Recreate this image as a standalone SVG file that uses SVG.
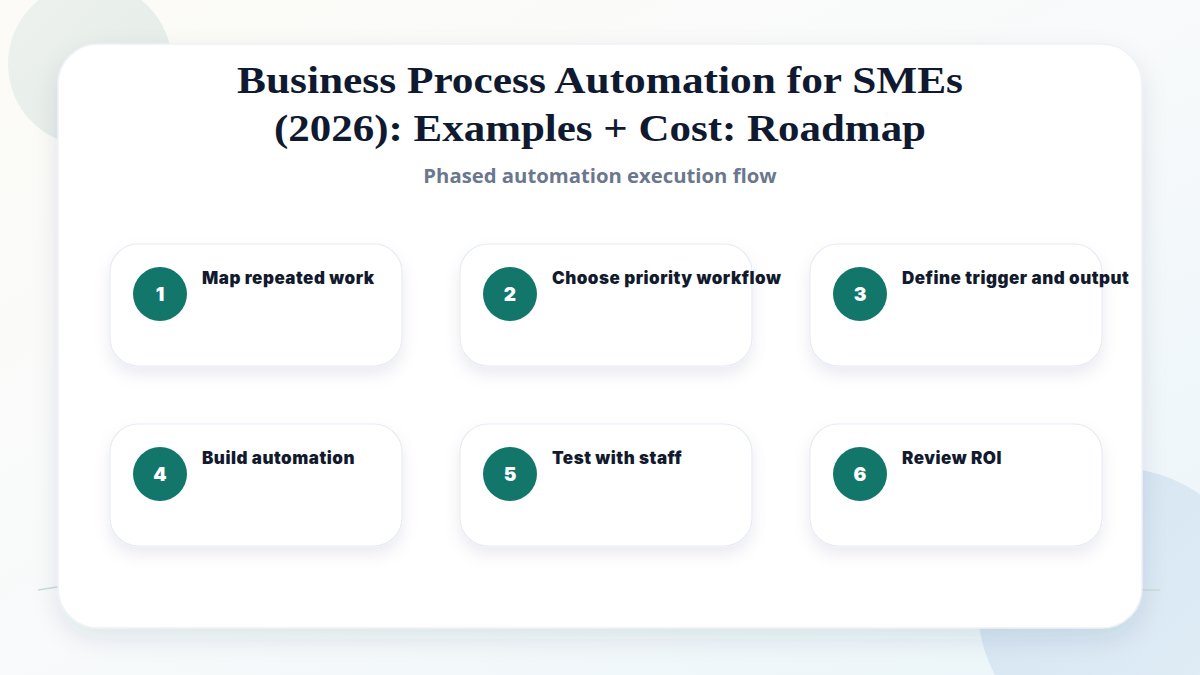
<svg xmlns="http://www.w3.org/2000/svg" width="1200" height="675" viewBox="0 0 1200 675">
<defs>
<linearGradient id="bg" x1="0" y1="0" x2="1" y2="1">
<stop offset="0" stop-color="#fcfbf7"/>
<stop offset="0.5" stop-color="#f8fafb"/>
<stop offset="1" stop-color="#eaf5f9"/>
</linearGradient>
<linearGradient id="c1" x1="0" y1="0" x2="1" y2="1">
<stop offset="0" stop-color="#eef2ee"/>
<stop offset="1" stop-color="#e2ebe8"/>
</linearGradient>
<linearGradient id="c2" x1="0" y1="0" x2="1" y2="1">
<stop offset="0" stop-color="#d2e3f0"/>
<stop offset="1" stop-color="#e3eff8"/>
</linearGradient>
<filter id="sh" x="-10%" y="-10%" width="120%" height="130%">
<feDropShadow dx="0" dy="10" stdDeviation="12" flood-color="#1e2a50" flood-opacity="0.10"/>
</filter>
<filter id="csh" x="-15%" y="-20%" width="130%" height="150%">
<feDropShadow dx="0" dy="8" stdDeviation="8" flood-color="#1e2a50" flood-opacity="0.08"/>
</filter>
<style>
.card{fill:#ffffff;stroke:#e6ebf5;stroke-width:1.2;filter:url(#csh)}
.num{fill:#13766b}
.numt{font-family:Inter,"Noto Sans",sans-serif;font-weight:900;font-size:19px;fill:#ffffff;text-anchor:middle}
.lbl{font-family:Inter,"Noto Sans",sans-serif;font-weight:900;font-size:17px;letter-spacing:0.5px;fill:#121a2e}
.title{font-family:"Liberation Serif",serif;font-weight:bold;font-size:38px;fill:#0f1a30;text-anchor:middle}
.sub{font-family:"Open Sans","Noto Sans",sans-serif;font-weight:700;font-size:20.3px;fill:#6a778d;text-anchor:middle}
</style>
</defs>
<rect width="1200" height="675" fill="url(#bg)"/>
<circle cx="90" cy="64" r="82" fill="url(#c1)"/>
<circle cx="1118" cy="608" r="140" fill="url(#c2)"/>
<path d="M38 590 Q 400 530 700 560 T 1160 590" fill="none" stroke="#c9ddd8" stroke-width="1.5"/>
<rect x="58" y="44" width="1084" height="584" rx="40" fill="#ffffff" stroke="#eef1f6" stroke-width="1.5" filter="url(#sh)"/>
<text class="title" x="600" y="93" textLength="726" lengthAdjust="spacingAndGlyphs">Business Process Automation for SMEs</text>
<text class="title" x="600" y="141" textLength="652" lengthAdjust="spacingAndGlyphs">(2026): Examples + Cost: Roadmap</text>
<text class="sub" x="600" y="183">Phased automation execution flow</text>
<g id="connectors"></g>
<g id="node1"><rect class="card" x="110" y="244" width="292" height="122" rx="28"/><circle class="num" cx="160" cy="294" r="27"/><text class="numt" x="160" y="301">1</text><text class="lbl" x="202" y="284">Map repeated work</text></g>
<g id="node2"><rect class="card" x="460" y="244" width="292" height="122" rx="28"/><circle class="num" cx="510" cy="294" r="27"/><text class="numt" x="510" y="301">2</text><text class="lbl" x="552" y="284">Choose priority workflow</text></g>
<g id="node3"><rect class="card" x="810" y="244" width="292" height="122" rx="28"/><circle class="num" cx="860" cy="294" r="27"/><text class="numt" x="860" y="301">3</text><text class="lbl" x="902" y="284">Define trigger and output</text></g>
<g id="node4"><rect class="card" x="110" y="424" width="292" height="122" rx="28"/><circle class="num" cx="160" cy="474" r="27"/><text class="numt" x="160" y="481">4</text><text class="lbl" x="202" y="464">Build automation</text></g>
<g id="node5"><rect class="card" x="460" y="424" width="292" height="122" rx="28"/><circle class="num" cx="510" cy="474" r="27"/><text class="numt" x="510" y="481">5</text><text class="lbl" x="552" y="464">Test with staff</text></g>
<g id="node6"><rect class="card" x="810" y="424" width="292" height="122" rx="28"/><circle class="num" cx="860" cy="474" r="27"/><text class="numt" x="860" y="481">6</text><text class="lbl" x="902" y="464">Review ROI</text></g>
</svg>
